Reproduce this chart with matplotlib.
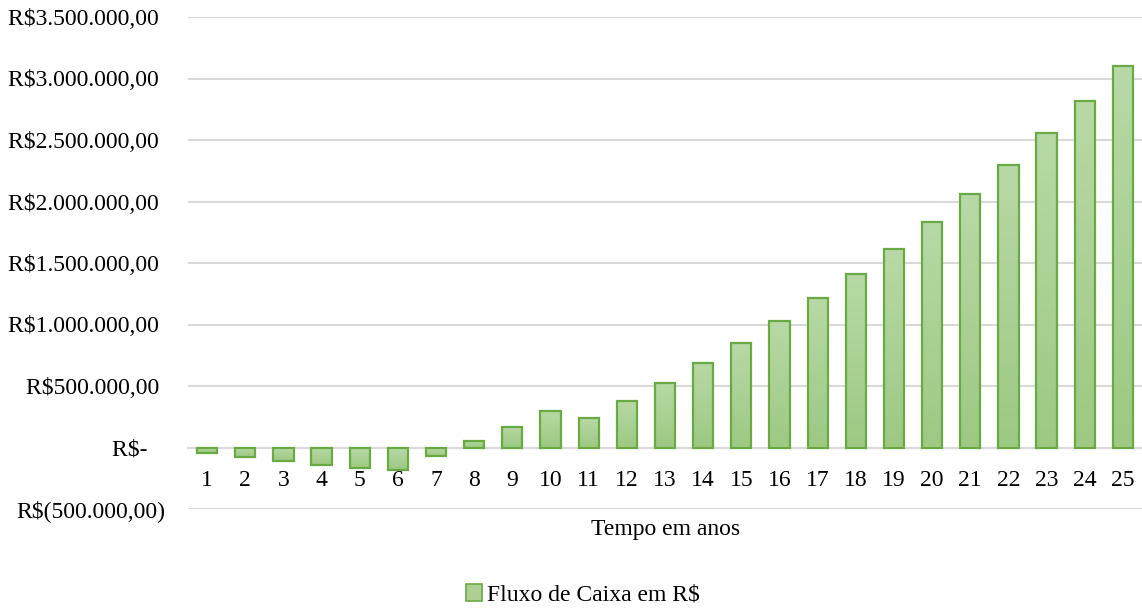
import matplotlib.pyplot as plt
import numpy as np
from matplotlib.ticker import FuncFormatter, MultipleLocator
from matplotlib.colors import LinearSegmentedColormap
from matplotlib.patches import Patch

plt.rcParams['font.family'] = ['Liberation Serif', 'DejaVu Serif']

anos = list(range(1, 26))
fluxo = [-43000, -81000, -111000, -144000, -165000, -184000, -71000, 49000,
         168000, 298000, 236000, 379000, 528000, 685000, 853000, 1030000,
         1214000, 1409000, 1612000, 1832000, 2060000, 2298000, 2553000,
         2819000, 3103000]


def moeda(v, pos=None):
    if abs(v) < 1:
        return 'R$-   '
    txt = f'{abs(v):,.2f}'.replace(',', 'X').replace('.', ',').replace('X', '.')
    if v < 0:
        return f'R$({txt})'
    return f'R${txt} '


fig = plt.figure(figsize=(11.42, 6.09), dpi=100)
ax = fig.add_axes([188 / 1142, 1 - 509 / 609, 954 / 1142, 492 / 609])

bars = ax.bar(anos, fluxo, width=0.53, facecolor='none', edgecolor='#6aaa45',
              linewidth=1.6, zorder=3)

# gradiente suave nas barras
cmap = LinearSegmentedColormap.from_list('verde', ['#9dc983', '#b8d9a6'])
grad = np.linspace(0, 1, 64).reshape(-1, 1)
for b in bars:
    x0, y0 = b.get_x(), b.get_y()
    w, h = b.get_width(), b.get_height()
    lo, hi = min(y0, y0 + h), max(y0, y0 + h)
    im = ax.imshow(grad, cmap=cmap, extent=(x0, x0 + w, lo, hi),
                   origin='lower', aspect='auto', zorder=2.5)
    im.set_clip_path(b)

ax.set_xlim(0.5, 25.5)
ax.set_ylim(-500000, 3500000)
ax.yaxis.set_major_locator(MultipleLocator(500000))
ax.yaxis.set_major_formatter(FuncFormatter(moeda))
ax.set_xticks(anos)
ax.set_xticklabels([str(a) for a in anos])

ax.grid(axis='y', color='#d9d9d9', linewidth=1.5, zorder=0)
for s in ['top', 'right', 'left']:
    ax.spines[s].set_visible(False)
ax.spines['bottom'].set_position(('data', 0))
ax.spines['bottom'].set_color('#d9d9d9')
ax.spines['bottom'].set_linewidth(1.5)
ax.tick_params(axis='both', length=0, labelsize=17, colors='black')
ax.tick_params(axis='y', pad=16.5)
ax.tick_params(axis='x', pad=16.5)

fig.text(666 / 1142, 1 - 529 / 609, 'Tempo em anos', ha='center', va='center',
         fontsize=17)

handle = Patch(facecolor='#acd094', edgecolor='#6aaa45', linewidth=1.2)
fig.legend(handles=[handle], labels=['Fluxo de Caixa em R$'], loc='center',
           bbox_to_anchor=(583 / 1142, 1 - 595 / 609),
           frameon=False, fontsize=17, handlelength=0.7, handleheight=0.7,
           handletextpad=0.2)

fig.savefig('out.png', dpi=100)
